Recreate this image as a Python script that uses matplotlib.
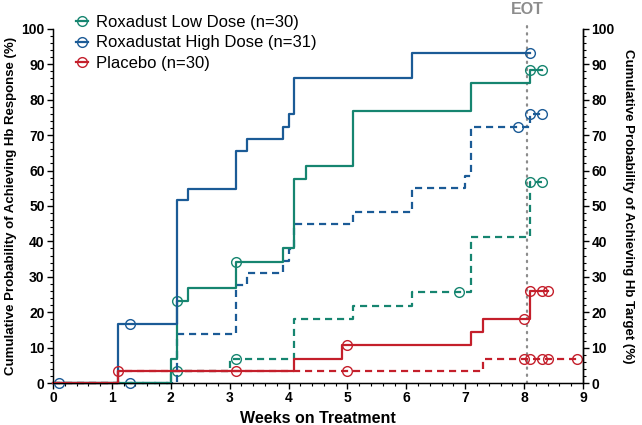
import numpy as np
import matplotlib
matplotlib.use("Agg")
import matplotlib.pyplot as plt
from matplotlib.lines import Line2D
from matplotlib.ticker import MultipleLocator

plt.rcParams["font.family"] = ["Liberation Sans", "DejaVu Sans"]

BLUE = "#1b5b96"
GREEN = "#168570"
RED = "#c41f2b"

# Hb response (solid) -- step times (weeks) and cumulative %
low_resp_t = [0, 2.0, 2.1, 2.3, 3.1, 3.9, 4.1, 4.3, 5.1, 7.1, 8.1]
low_resp_v = [0, 6.7, 23.3, 26.7, 34.3, 38.0, 57.5, 61.4, 76.9, 84.6, 88.5]
low_resp_cens = [2.1, 3.1, 8.1, 8.3]

high_resp_t = [0, 1.1, 2.1, 2.3, 3.1, 3.3, 3.9, 4.0, 4.1, 6.1]
high_resp_v = [0, 16.7, 51.6, 54.8, 65.5, 68.9, 72.4, 75.9, 86.2, 93.1]
high_resp_cens = [0.1, 1.3, 8.1]

pbo_resp_t = [0, 1.1, 4.1, 4.9, 7.1, 7.3, 8.1]
pbo_resp_v = [0, 3.3, 6.9, 10.6, 14.3, 18.0, 25.9]
pbo_resp_cens = [1.1, 3.1, 5.0, 8.0, 8.1, 8.3, 8.4]

# Hb target (dashed)
low_tgt_t = [0, 2.0, 3.0, 4.1, 5.1, 6.1, 7.1, 8.1]
low_tgt_v = [0, 3.3, 6.9, 18.0, 21.8, 25.6, 41.2, 56.9]
low_tgt_cens = [2.1, 3.1, 6.9, 8.1, 8.3]

high_tgt_t = [1.3, 2.1, 3.1, 3.3, 3.9, 4.0, 4.1, 5.1, 6.1, 7.0, 7.1, 8.1]
high_tgt_v = [0, 13.8, 27.6, 31.0, 34.5, 37.9, 44.8, 48.3, 55.2, 58.6, 72.4, 75.9]
high_tgt_cens = [1.3, 7.9, 8.1, 8.3]

pbo_tgt_t = [0, 1.1, 7.3]
pbo_tgt_v = [0, 3.3, 6.9]
pbo_tgt_cens = [5.0, 8.0, 8.1, 8.3, 8.4, 8.9]

labels = ["Roxadust Low Dose (n=30)", "Roxadustat High Dose (n=31)", "Placebo (n=30)"]
EOT = 8.05


def km(ax, t, v, cens, color, ls, z):
    t = np.asarray(t, float)
    v = np.asarray(v, float)
    end = max(max(cens), t[-1])
    tt = np.append(t, end)
    vv = np.append(v, v[-1])
    dash = (0, (3.2, 2.2)) if ls == "--" else "-"
    ax.step(tt, vv, where="post", color=color, lw=1.6, ls=dash, zorder=z,
            clip_on=False)
    idx = np.searchsorted(t, np.asarray(cens), side="right") - 1
    ax.plot(cens, v[idx], "o", ms=7, mfc="none", mec=color, mew=1.0,
            zorder=z + 0.1, clip_on=False)


fig = plt.figure(figsize=(6.42, 4.25), dpi=100)
ax = fig.add_axes([0.0826, 0.0988, 0.8254, 0.8332])

km(ax, low_tgt_t, low_tgt_v, low_tgt_cens, GREEN, "--", 2)
km(ax, high_tgt_t, high_tgt_v, high_tgt_cens, BLUE, "--", 2.2)
km(ax, pbo_tgt_t, pbo_tgt_v, pbo_tgt_cens, RED, "--", 2.4)
km(ax, low_resp_t, low_resp_v, low_resp_cens, GREEN, "-", 3)
km(ax, high_resp_t, high_resp_v, high_resp_cens, BLUE, "-", 3.2)
km(ax, pbo_resp_t, pbo_resp_v, pbo_resp_cens, RED, "-", 3.4)

ax.plot([EOT, EOT], [0, 101], color="#8c8c8c", lw=1.6, ls=(0, (0.6, 2.6)),
        dash_capstyle="round", zorder=1.5, clip_on=False)
ax.text(EOT, 103.5, "EOT", color="#8c8c8c", fontsize=11.5, fontweight="bold",
        ha="center", va="bottom")

ax.set_xlim(0, 9)
ax.set_ylim(0, 100)
ax.xaxis.set_major_locator(MultipleLocator(1))
ax.xaxis.set_minor_locator(MultipleLocator(0.2))
ax.yaxis.set_major_locator(MultipleLocator(10))
ax.yaxis.set_minor_locator(MultipleLocator(2))
ax.spines["top"].set_visible(False)
for s in ["left", "bottom", "right"]:
    ax.spines[s].set_linewidth(1.0)

ax2 = ax.twinx()
ax2.set_ylim(0, 100)
ax2.yaxis.set_major_locator(MultipleLocator(10))
ax2.yaxis.set_minor_locator(MultipleLocator(2))
ax2.spines["top"].set_visible(False)
ax2.spines["right"].set_linewidth(1.0)

for a in (ax, ax2):
    a.tick_params(which="major", length=4, width=1.0, labelsize=10, pad=2)
    a.tick_params(which="minor", length=2, width=0.8)
    for lab in a.get_xticklabels() + a.get_yticklabels():
        lab.set_fontweight("bold")

ax.set_xlabel("Weeks on Treatment", fontsize=11.5, fontweight="bold", labelpad=4)
ax.set_ylabel("Cumulative Probability of Achieving Hb Response (%)",
              fontsize=9.5, fontweight="bold", labelpad=3)
ax2.set_ylabel("Cumulative Probability of Achieving Hb Target (%)",
               fontsize=9.5, fontweight="bold", rotation=270, labelpad=14)

handles = [Line2D([], [], color=c, lw=1.6, marker="o", ms=7, mfc="none", mew=1.0)
           for c in (GREEN, BLUE, RED)]
ax.legend(handles, labels, loc="upper left", bbox_to_anchor=(0.1, 0.993),
          bbox_transform=fig.transFigure, frameon=False, fontsize=12,
          handlelength=0.75, handletextpad=0.45, labelspacing=0.35,
          borderaxespad=0.3)

fig.savefig("out.png", dpi=100)
